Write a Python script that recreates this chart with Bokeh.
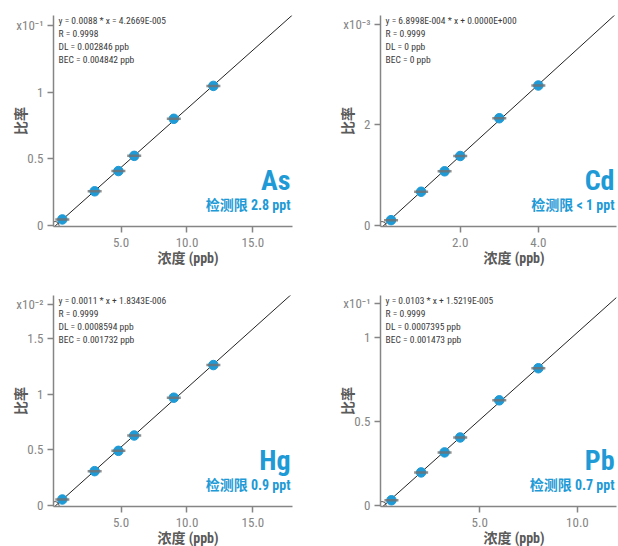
from bokeh.plotting import figure
from bokeh.models import Label, FixedTicker, Range1d, Title
from bokeh.layouts import gridplot
from bokeh.embed import file_html
from bokeh.resources import INLINE
import numpy as np

# ---------------- data ----------------
as_conc = [0, 0.55, 3.0, 4.8, 6.0, 9.0, 12.0]
as_ratio = [0, 0.0045, 0.0256, 0.0408, 0.0522, 0.0800, 0.1047]
cd_conc = [0, 0.23, 1.0, 1.6, 2.0, 3.0, 4.0]
cd_ratio = [0, 0.000106, 0.00067, 0.001076, 0.00138, 0.00213, 0.00278]
hg_conc = [0, 0.55, 3.0, 4.8, 6.0, 9.0, 12.0]
hg_ratio = [0, 0.00054, 0.00309, 0.00492, 0.0063, 0.0097, 0.01264]
pb_conc = [0, 0.48, 2.0, 3.2, 4.0, 6.0, 8.0]
pb_ratio = [0, 0.0031, 0.0197, 0.0316, 0.0405, 0.0626, 0.0817]

as_eq = ["y = 0.0088 * x = 4.2669E-005", "R = 0.9998", "DL = 0.002846 ppb", "BEC = 0.004842 ppb"]
cd_eq = ["y = 6.8998E-004 * x + 0.0000E+000", "R = 0.9999", "DL = 0 ppb", "BEC = 0 ppb"]
hg_eq = ["y = 0.0011 * x + 1.8343E-006", "R = 0.9999", "DL = 0.0008594 ppb", "BEC = 0.001732 ppb"]
pb_eq = ["y = 0.0103 * x + 1.5219E-005", "R = 0.9999", "DL = 0.0007395 ppb", "BEC = 0.001473 ppb"]

elements = ["As", "Cd", "Hg", "Pb"]
detection = ["检测限 2.8 ppt", "检测限 < 1 ppt", "检测限 0.9 ppt", "检测限 0.7 ppt"]
exponents = [-1, -3, -2, -1]
exp_labels = ["x10⁻¹", "x10⁻³", "x10⁻²", "x10⁻¹"]

as_xticks = [5, 10, 15]
cd_xticks = [2, 4]
hg_xticks = [5, 10, 15]
pb_xticks = [5, 10]
as_yticks = [0, 0.5, 1]
cd_yticks = [0, 2]
hg_yticks = [0, 0.5, 1, 1.5]
pb_yticks = [0, 0.5, 1]
as_ylabels = ["0", "0.5", "1"]
cd_ylabels = ["0", "2"]
hg_ylabels = ["0", "0.5", "1", "1.5"]
pb_ylabels = ["0", "0.5", "1"]
exp_tick_pos = [1.5, 3.99, 1.81, 1.2]

x_label = "浓度 (ppb)"
y_label = "比率"

# ---------------- style ----------------
BLUE = "#1e9ad6"
AXIS = "#858585"
DARK = "#3a3a3a"
LAB = "#5a5a5a"
NARROW = "Roboto Condensed, Roboto, Noto Sans CJK SC"


def panel(conc, ratio, exp, xr, yr, xticks, yticks, ylabels, exp_pos, exp_label,
          eq, elem, det, w, h, bl, br, bt, bb, title_off):
    scale = 10.0 ** (-exp)
    ys = [r * scale for r in ratio]
    p = figure(width=w, height=h, x_range=Range1d(*xr), y_range=Range1d(*yr),
               output_backend="svg", toolbar_location=None,
               min_border_left=bl, min_border_right=br, min_border_top=bt,
               min_border_bottom=bb, y_axis_label=y_label)
    p.outline_line_color = None
    p.xgrid.visible = False
    p.ygrid.visible = False

    for ax in (p.xaxis[0], p.yaxis[0]):
        ax.axis_line_color = AXIS
        ax.axis_line_width = 1.5
        ax.major_tick_line_color = AXIS
        ax.major_tick_line_width = 1.5
        ax.major_tick_out = 6
        ax.major_tick_in = 0
        ax.minor_tick_line_color = None
        ax.major_label_text_color = AXIS
        ax.major_label_text_font = NARROW
        ax.major_label_text_font_size = "13px"
        ax.axis_label_text_color = LAB
        ax.axis_label_text_font = NARROW
        ax.axis_label_text_font_style = "bold"
        ax.axis_label_text_font_size = "14px"

    p.xaxis.ticker = FixedTicker(ticks=xticks)
    p.xaxis.major_label_overrides = {t: "%.1f" % t for t in xticks}
    p.xaxis.major_label_standoff = 5

    p.yaxis.ticker = FixedTicker(ticks=list(yticks) + [exp_pos])
    ov = {t: l for t, l in zip(yticks, ylabels)}
    ov[exp_pos] = exp_label
    p.yaxis.major_label_overrides = ov
    p.yaxis.major_label_text_baseline = "bottom"
    p.yaxis.major_label_standoff = 4
    p.yaxis.axis_label_standoff = -16

    # x-axis title, sitting a little right of the frame centre as in the reference
    p.add_layout(Title(text=x_label, align="left", offset=title_off, standoff=-4,
                       text_font=NARROW, text_font_style="bold", text_font_size="14px",
                       text_color=LAB), "below")

    # fitted line
    slope, icpt = np.polyfit(conc, ys, 1)
    lx = [0, xr[1]]
    p.line(lx, [slope * v + icpt for v in lx], line_color="#222222", line_width=1)

    # standards
    p.scatter(conc[:1], ys[:1], marker="circle", size=8, fill_color=None,
              line_color="#555555", line_width=1)
    p.scatter(conc[1:], ys[1:], marker="circle", size=9.5, fill_color=BLUE,
              line_color=BLUE)
    p.scatter(conc[1:], ys[1:], marker="dash", size=14, line_color="#707070",
              line_width=2.5, line_alpha=0.8)

    for i, t in enumerate(eq):
        p.add_layout(Label(x=xr[0], y=yr[1], x_offset=5, y_offset=-5 - 13 * i,
                           text=t, text_font=NARROW, text_font_size="9.5px",
                           text_color=DARK, text_baseline="middle"))

    p.add_layout(Label(x=xr[1], y=yr[0], x_offset=-2, y_offset=46, text=elem,
                       text_font=NARROW, text_font_style="bold",
                       text_font_size="28px", text_color=BLUE, text_align="right",
                       text_baseline="alphabetic"))
    p.add_layout(Label(x=xr[1], y=yr[0], x_offset=-2, y_offset=22, text=det,
                       text_font=NARROW, text_font_style="bold",
                       text_font_size="14px", text_color=BLUE, text_align="right",
                       text_baseline="alphabetic"))
    return p


W1, W2 = 327, 291
H1, H2 = 278, 268

p1 = panel(as_conc, as_ratio, exponents[0], (-0.12, 18), (-0.008, 1.575), as_xticks,
           as_yticks, as_ylabels, exp_tick_pos[0], exp_labels[0], as_eq, elements[0],
           detection[0], W1, H1, 53, 35, 15, 52, 104)
p2 = panel(cd_conc, cd_ratio, exponents[1], (-0.04, 6), (-0.02, 4.17), cd_xticks,
           cd_yticks, cd_ylabels, exp_tick_pos[1], exp_labels[1], cd_eq, elements[1],
           detection[1], W2, H1, 53, 2, 15, 52, 103)
p3 = panel(hg_conc, hg_ratio, exponents[2], (-0.12, 18), (-0.009, 1.89), hg_xticks,
           hg_yticks, hg_ylabels, exp_tick_pos[2], exp_labels[2], hg_eq, elements[2],
           detection[2], W1, H2, 53, 35, 17, 40, 104)
p4 = panel(pb_conc, pb_ratio, exponents[3], (-0.08, 12), (-0.006, 1.25), pb_xticks,
           pb_yticks, pb_ylabels, exp_tick_pos[3], exp_labels[3], pb_eq, elements[3],
           detection[3], W2, H2, 53, 2, 17, 40, 103)

grid = gridplot([[p1, p2], [p3, p4]], toolbar_location=None)
open("out.html", "w").write(file_html(grid, INLINE))
